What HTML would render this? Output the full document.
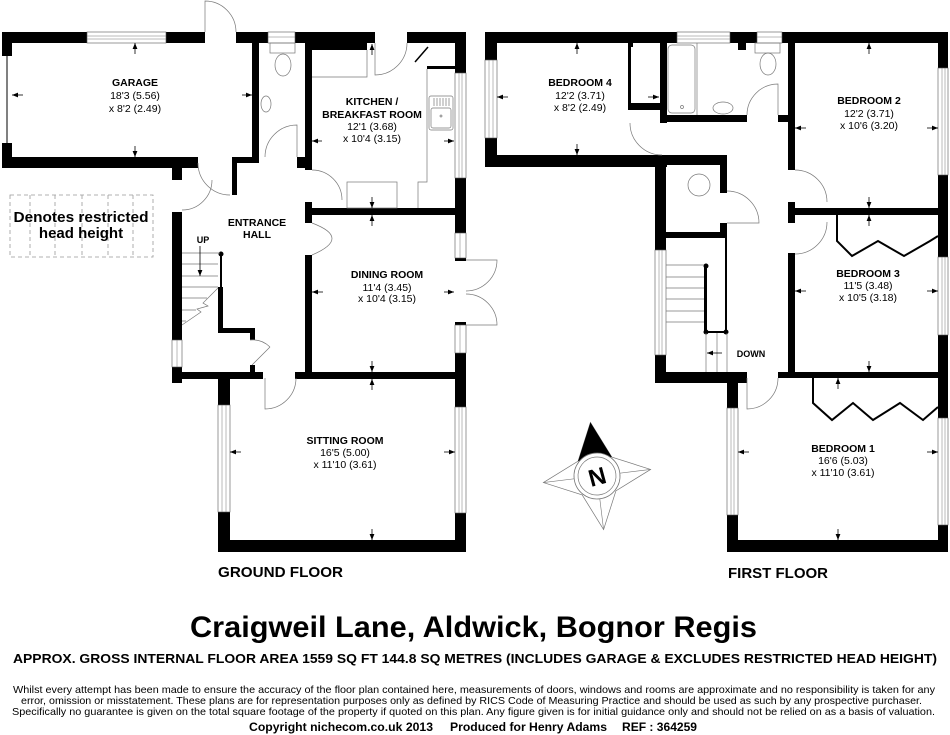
<!DOCTYPE html>
<html><head><meta charset="utf-8">
<style>
html,body{margin:0;padding:0;background:#fff;}
svg{display:block;}
text{font-family:"Liberation Sans",Arial,sans-serif;fill:#000;}
.b{font-weight:bold;}
.t{stroke:#777;stroke-width:.7;fill:none;}
.win{fill:#fff;stroke:#555;stroke-width:.6;}
.wl{stroke:#777;stroke-width:.5;}
.ar{stroke:#000;stroke-width:.8;}
</style></head>
<body>
<svg width="950" height="735" viewBox="0 0 950 735" xmlns="http://www.w3.org/2000/svg">
<defs>
<marker id="a" viewBox="0 0 10 10" refX="10" refY="5" markerWidth="6" markerHeight="6" orient="auto" markerUnits="userSpaceOnUse"><path d="M0,1 L10,5 L0,9 z" fill="#000"/></marker>
</defs>
<rect width="950" height="735" fill="#fff"/>

<!-- ================= GROUND FLOOR ================= -->
<g fill="#000">
<rect x="2" y="32" width="85" height="11"/>
<rect x="166" y="32" width="39" height="11"/>
<rect x="2" y="32" width="10" height="24"/>
<rect x="2" y="143" width="10" height="25"/>
<rect x="2" y="157" width="196" height="11"/>
<rect x="172" y="157" width="10" height="23"/>
<rect x="252" y="43" width="7" height="120"/>
<rect x="232" y="157" width="27" height="6"/>
<rect x="232" y="157" width="5" height="38"/>
<rect x="236" y="32" width="32" height="11"/>
<rect x="295" y="32" width="80" height="11"/>
<rect x="305" y="43" width="62" height="7"/>
<rect x="305" y="43" width="7" height="127"/>
<rect x="297" y="157" width="15" height="11"/>
<rect x="407" y="32" width="59" height="11"/>
<rect x="455" y="32" width="11" height="41"/>
<rect x="455" y="178" width="11" height="55"/>
<rect x="455" y="258" width="11" height="3"/>
<rect x="455" y="322" width="11" height="3"/>
<rect x="455" y="353" width="11" height="54"/>
<rect x="305" y="208" width="150" height="7"/>
<rect x="305" y="202" width="7" height="21"/>
<rect x="305" y="255" width="7" height="120"/>
<rect x="172" y="372" width="91" height="7"/>
<rect x="172" y="372" width="10" height="11"/>
<rect x="295" y="372" width="171" height="7"/>
<rect x="218" y="372" width="12" height="33"/>
<rect x="218" y="512" width="12" height="40"/>
<rect x="218" y="540" width="248" height="12"/>
<rect x="455" y="513" width="11" height="39"/>
<rect x="172" y="212" width="10" height="128"/>
<rect x="172" y="367" width="10" height="16"/>
<rect x="220" y="253" width="2" height="35"/>
<rect x="218" y="287" width="5" height="46"/>
<rect x="218" y="328" width="37" height="5"/>
<rect x="250" y="328" width="5" height="12"/>
<rect x="250" y="365" width="5" height="8"/>
<circle cx="221" cy="254" r="2.5"/>
<rect x="427" y="66" width="28" height="3"/>
</g>
<line x1="7" y1="56" x2="7" y2="143" stroke="#000" stroke-width="1"/>
<line x1="415" y1="62" x2="428" y2="47" stroke="#000" stroke-width="1.5"/>

<!-- ground windows -->
<g>
<rect class="win" x="87" y="32" width="79" height="11"/><line class="wl" x1="87" y1="36" x2="166" y2="36"/><line class="wl" x1="87" y1="39" x2="166" y2="39"/>
<rect class="win" x="268" y="32" width="27" height="11"/><line class="wl" x1="268" y1="37" x2="295" y2="37"/>
<rect class="win" x="455" y="73" width="11" height="105"/><line class="wl" x1="459" y1="73" x2="459" y2="178"/><line class="wl" x1="462" y1="73" x2="462" y2="178"/>
<rect class="win" x="455" y="233" width="11" height="25"/><line class="wl" x1="460" y1="233" x2="460" y2="258"/>
<rect class="win" x="455" y="325" width="11" height="28"/><line class="wl" x1="460" y1="325" x2="460" y2="353"/>
<rect class="win" x="172" y="340" width="10" height="27"/><line class="wl" x1="177" y1="340" x2="177" y2="367"/>
<rect class="win" x="218" y="405" width="12" height="107"/><line class="wl" x1="222" y1="405" x2="222" y2="512"/><line class="wl" x1="226" y1="405" x2="226" y2="512"/>
<rect class="win" x="455" y="407" width="11" height="106"/><line class="wl" x1="459" y1="407" x2="459" y2="513"/><line class="wl" x1="462" y1="407" x2="462" y2="513"/>
</g>

<!-- ground doors & fixtures -->
<g class="t">
<path d="M205,32 V1 A31,31 0 0 1 236,32"/>
<path d="M198,163 A32,32 0 0 0 230,195"/>
<path d="M212,180 A30,30 0 0 1 182,210"/>
<path d="M297,157 V125 A32,32 0 0 0 265,157"/>
<path d="M375,43 V75 A32,32 0 0 0 407,43"/>
<path d="M312,170 A30,30 0 0 1 342,200"/>
<path d="M312,223 Q352,238 312,255"/>
<path d="M466,260 H497 A31,31 0 0 1 466,291"/>
<path d="M466,325 H497 A31,31 0 0 0 466,294"/>
<path d="M265,378 V409 A31,31 0 0 0 296,378"/>
<path d="M252,365 L270,347"/>
<path d="M250,340 A25,25 0 0 1 270,347"/>
<!-- WC -->
<rect x="270" y="43" width="25" height="10"/>
<ellipse cx="283" cy="65" rx="8" ry="11"/>
<ellipse cx="266" cy="104" rx="5" ry="8"/>
<!-- kitchen -->
<polyline points="312,77 367,77 367,50"/>
<polyline points="427,69 427,182 418,182 418,208"/>
<rect x="347" y="182" width="50" height="26"/>
<rect x="429" y="96" width="24" height="34" rx="2"/>
<rect x="431" y="108" width="20" height="20" rx="2"/>
<path d="M434,98V106M437,98V106M440,98V106M443,98V106M446,98V106M449,98V106"/>
<circle cx="441" cy="116" r="1"/>
<!-- stairs -->
<path d="M182,253H220M182,264H218M182,276H218M182,287H218M182,298H207M182,310H196M182,321H186"/>
<polyline points="218,288 203,303 208,306 197,309 201,312 182,325"/>
</g>
<line x1="200" y1="246" x2="200" y2="276" class="ar" marker-end="url(#a)"/>

<!-- ================= FIRST FLOOR ================= -->
<g fill="#000">
<rect x="485" y="32" width="192" height="11"/>
<rect x="730" y="32" width="27" height="11"/>
<rect x="738" y="43" width="8" height="7"/>
<rect x="782" y="32" width="166" height="11"/>
<rect x="938" y="32" width="10" height="36"/>
<rect x="938" y="175" width="10" height="82"/>
<rect x="938" y="335" width="10" height="83"/>
<rect x="938" y="525" width="10" height="27"/>
<rect x="485" y="32" width="12" height="28"/>
<rect x="485" y="138" width="12" height="29"/>
<rect x="485" y="155" width="182" height="12"/>
<rect x="655" y="155" width="72" height="10"/>
<rect x="655" y="155" width="11" height="95"/>
<rect x="655" y="355" width="11" height="28"/>
<rect x="720" y="155" width="7" height="38"/>
<rect x="720" y="223" width="7" height="15"/>
<rect x="666" y="232" width="59" height="6"/>
<rect x="660" y="43" width="7" height="80"/>
<rect x="628" y="43" width="3" height="60"/>
<rect x="628" y="43" width="5" height="4"/>
<rect x="628" y="103" width="32" height="7"/>
<rect x="660" y="115" width="87" height="7"/>
<rect x="778" y="115" width="17" height="7"/>
<rect x="788" y="43" width="7" height="127"/>
<rect x="788" y="202" width="7" height="21"/>
<rect x="795" y="208" width="143" height="7"/>
<rect x="788" y="253" width="7" height="120"/>
<rect x="655" y="372" width="92" height="11"/>
<rect x="727" y="372" width="11" height="36"/>
<rect x="727" y="515" width="11" height="37"/>
<rect x="778" y="372" width="170" height="6"/>
<rect x="727" y="540" width="221" height="12"/>
<rect x="704" y="265" width="3" height="68"/>
<rect x="704" y="331" width="23" height="2"/>
<rect x="725" y="223" width="2" height="110"/>
<circle cx="706" cy="266" r="2.5"/>
<circle cx="706" cy="332" r="2.5"/>
<circle cx="726" cy="332" r="2.5"/>
</g>

<!-- first windows -->
<g>
<rect class="win" x="677" y="32" width="53" height="11"/><line class="wl" x1="677" y1="36" x2="730" y2="36"/><line class="wl" x1="677" y1="39" x2="730" y2="39"/>
<rect class="win" x="757" y="32" width="25" height="11"/><line class="wl" x1="757" y1="37" x2="782" y2="37"/>
<rect class="win" x="485" y="60" width="12" height="78"/><line class="wl" x1="489" y1="60" x2="489" y2="138"/><line class="wl" x1="493" y1="60" x2="493" y2="138"/>
<rect class="win" x="938" y="68" width="10" height="107"/><line class="wl" x1="942" y1="68" x2="942" y2="175"/><line class="wl" x1="945" y1="68" x2="945" y2="175"/>
<rect class="win" x="938" y="257" width="10" height="78"/><line class="wl" x1="942" y1="257" x2="942" y2="335"/><line class="wl" x1="945" y1="257" x2="945" y2="335"/>
<rect class="win" x="938" y="418" width="10" height="107"/><line class="wl" x1="942" y1="418" x2="942" y2="525"/><line class="wl" x1="945" y1="418" x2="945" y2="525"/>
<rect class="win" x="655" y="250" width="11" height="105"/><line class="wl" x1="659" y1="250" x2="659" y2="355"/><line class="wl" x1="662" y1="250" x2="662" y2="355"/>
<rect class="win" x="727" y="408" width="11" height="107"/><line class="wl" x1="731" y1="408" x2="731" y2="515"/><line class="wl" x1="734" y1="408" x2="734" y2="515"/>
</g>

<g class="t">
<path d="M630,123 A32,32 0 0 0 662,155"/>
<path d="M778,115 V84 A31,31 0 0 0 747,115"/>
<path d="M795,170 A32,32 0 0 1 827,202"/>
<path d="M827,222 A32,32 0 0 1 795,254"/>
<path d="M727,223 H759 A32,32 0 0 0 727,191"/>
<path d="M747,378 V409 A31,31 0 0 0 778,378"/>
<rect x="668" y="45" width="27" height="68" rx="4"/>
<line x1="697" y1="43" x2="697" y2="115"/>
<circle cx="682" cy="107" r="1.5"/>
<ellipse cx="723" cy="108" rx="10" ry="6"/>
<rect x="755" y="43" width="25" height="10"/>
<ellipse cx="768" cy="64" rx="8" ry="11"/>
<circle cx="699" cy="185" r="11"/>
<path d="M666,265H704M666,277H704M666,288H704M666,299H704M666,311H704M666,322H704"/>
<path d="M706,333V372M717,333V372M727,333V372"/>
</g>
<line x1="722" y1="353" x2="707" y2="353" class="ar" marker-end="url(#a)"/>
<!-- wardrobes -->
<g stroke="#000" stroke-width="2" fill="none">
<polyline points="837,215 837,241 852,256 878,241 904,256 930,241 938,236"/>
<polyline points="813,378 813,403 832,420 853,403 873,420 900,403 923,420 938,407"/>
</g>

<!-- dimension arrows -->
<g class="ar">
<line x1="135" y1="54" x2="135" y2="43" marker-end="url(#a)"/>
<line x1="135" y1="146" x2="135" y2="157" marker-end="url(#a)"/>
<line x1="23" y1="95" x2="12" y2="95" marker-end="url(#a)"/>
<line x1="242" y1="95" x2="252" y2="95" marker-end="url(#a)"/>
<line x1="372" y1="55" x2="372" y2="44" marker-end="url(#a)"/>
<line x1="322" y1="141" x2="312" y2="141" marker-end="url(#a)"/>
<line x1="444" y1="141" x2="454" y2="141" marker-end="url(#a)"/>
<line x1="372" y1="197" x2="372" y2="208" marker-end="url(#a)"/>
<line x1="372" y1="226" x2="372" y2="215" marker-end="url(#a)"/>
<line x1="323" y1="292" x2="312" y2="292" marker-end="url(#a)"/>
<line x1="444" y1="292" x2="454" y2="292" marker-end="url(#a)"/>
<line x1="372" y1="361" x2="372" y2="372" marker-end="url(#a)"/>
<line x1="372" y1="390" x2="372" y2="379" marker-end="url(#a)"/>
<line x1="241" y1="452" x2="230" y2="452" marker-end="url(#a)"/>
<line x1="444" y1="452" x2="455" y2="452" marker-end="url(#a)"/>
<line x1="372" y1="529" x2="372" y2="540" marker-end="url(#a)"/>
<line x1="577" y1="54" x2="577" y2="43" marker-end="url(#a)"/>
<line x1="577" y1="144" x2="577" y2="155" marker-end="url(#a)"/>
<line x1="508" y1="97" x2="497" y2="97" marker-end="url(#a)"/>
<line x1="648" y1="97" x2="659" y2="97" marker-end="url(#a)"/>
<line x1="869" y1="54" x2="869" y2="43" marker-end="url(#a)"/>
<line x1="806" y1="128" x2="795" y2="128" marker-end="url(#a)"/>
<line x1="927" y1="128" x2="938" y2="128" marker-end="url(#a)"/>
<line x1="869" y1="197" x2="869" y2="208" marker-end="url(#a)"/>
<line x1="869" y1="226" x2="869" y2="215" marker-end="url(#a)"/>
<line x1="806" y1="291" x2="795" y2="291" marker-end="url(#a)"/>
<line x1="927" y1="291" x2="938" y2="291" marker-end="url(#a)"/>
<line x1="869" y1="361" x2="869" y2="372" marker-end="url(#a)"/>
<line x1="838" y1="389" x2="838" y2="378" marker-end="url(#a)"/>
<line x1="749" y1="452" x2="738" y2="452" marker-end="url(#a)"/>
<line x1="927" y1="452" x2="938" y2="452" marker-end="url(#a)"/>
<line x1="838" y1="529" x2="838" y2="540" marker-end="url(#a)"/>
</g>

<!-- restricted head height key -->
<g stroke="#999" stroke-width=".8" stroke-dasharray="4,3" fill="none">
<rect x="10" y="195" width="143" height="62"/>
<path d="M30,195V257M55,195V257M82,195V257M108,195V257M133,195V257"/>
</g>
<text x="81" y="222" class="b" font-size="15" text-anchor="middle" textLength="135" lengthAdjust="spacingAndGlyphs">Denotes restricted</text>
<text x="81" y="238" class="b" font-size="15" text-anchor="middle">head height</text>

<!-- room labels -->
<g font-size="10.5" text-anchor="middle">
<text x="135" y="86" class="b">GARAGE</text>
<text x="135" y="99">18'3 (5.56)</text>
<text x="135" y="112">x 8'2 (2.49)</text>
<text x="372" y="105" class="b">KITCHEN /</text>
<text x="372" y="118" class="b">BREAKFAST ROOM</text>
<text x="372" y="130">12'1 (3.68)</text>
<text x="372" y="142">x 10'4 (3.15)</text>
<text x="257" y="226" class="b">ENTRANCE</text>
<text x="257" y="238" class="b">HALL</text>
<text x="203" y="243" class="b" font-size="9">UP</text>
<text x="387" y="278" class="b">DINING ROOM</text>
<text x="387" y="291">11'4 (3.45)</text>
<text x="387" y="302">x 10'4 (3.15)</text>
<text x="345" y="444" class="b">SITTING ROOM</text>
<text x="345" y="456">16'5 (5.00)</text>
<text x="345" y="468">x 11'10 (3.61)</text>
<text x="580" y="86" class="b">BEDROOM 4</text>
<text x="580" y="99">12'2 (3.71)</text>
<text x="580" y="111">x 8'2 (2.49)</text>
<text x="869" y="104" class="b">BEDROOM 2</text>
<text x="869" y="117">12'2 (3.71)</text>
<text x="869" y="129">x 10'6 (3.20)</text>
<text x="868" y="277" class="b">BEDROOM 3</text>
<text x="868" y="289">11'5 (3.48)</text>
<text x="868" y="301">x 10'5 (3.18)</text>
<text x="843" y="452" class="b">BEDROOM 1</text>
<text x="843" y="464">16'6 (5.03)</text>
<text x="843" y="476">x 11'10 (3.61)</text>
<text x="751" y="357" class="b" font-size="9">DOWN</text>
</g>

<text x="280.5" y="577" class="b" font-size="15" text-anchor="middle" textLength="125" lengthAdjust="spacingAndGlyphs">GROUND FLOOR</text>
<text x="778" y="578" class="b" font-size="15" text-anchor="middle" textLength="100" lengthAdjust="spacingAndGlyphs">FIRST FLOOR</text>

<!-- compass -->
<g transform="translate(597,476) rotate(-7)">
<polygon points="0,-54 17,-17 54,0 17,17 0,54 -17,17 -54,0 -17,-17" fill="#fff" stroke="#777" stroke-width=".7"/>
<path d="M0,-54V0M0,54V0M-54,0H0M54,0H0" stroke="#777" stroke-width=".6"/>
<polygon points="0,-54 17,-17 -17,-17" fill="#000"/>
<circle r="23" fill="#fff" stroke="#777" stroke-width=".8"/>
<circle r="19" fill="none" stroke="#777" stroke-width=".7"/>
<text x="0" y="9" class="b" font-size="24" text-anchor="middle" transform="rotate(-8)">N</text>
</g>

<!-- footer text -->
<text x="473.5" y="637" class="b" font-size="30" text-anchor="middle" textLength="567" lengthAdjust="spacingAndGlyphs">Craigweil Lane, Aldwick, Bognor Regis</text>
<text x="475" y="663" class="b" font-size="12.5" text-anchor="middle" textLength="924" lengthAdjust="spacingAndGlyphs">APPROX. GROSS INTERNAL FLOOR AREA 1559 SQ FT 144.8 SQ METRES (INCLUDES GARAGE &amp; EXCLUDES RESTRICTED HEAD HEIGHT)</text>
<text x="474" y="693" font-size="10.3" text-anchor="middle" textLength="922" lengthAdjust="spacingAndGlyphs">Whilst every attempt has been made to ensure the accuracy of the floor plan contained here, measurements of doors, windows and rooms are approximate and no responsibility is taken for any</text>
<text x="471.5" y="704" font-size="10.3" text-anchor="middle" textLength="901" lengthAdjust="spacingAndGlyphs">error, omission or misstatement. These plans are for representation purposes only as defined by RICS Code of Measuring Practice and should be used as such by any prospective purchaser.</text>
<text x="473.5" y="715" font-size="10.3" text-anchor="middle" textLength="923" lengthAdjust="spacingAndGlyphs">Specifically no guarantee is given on the total square footage of the property if quoted on this plan. Any figure given is for initial guidance only and should not be relied on as a basis of valuation.</text>
<text x="249" y="731" class="b" font-size="11.5" textLength="184" lengthAdjust="spacingAndGlyphs">Copyright nichecom.co.uk 2013</text>
<text x="450" y="731" class="b" font-size="11.5" textLength="157" lengthAdjust="spacingAndGlyphs">Produced for Henry Adams</text>
<text x="622" y="731" class="b" font-size="11.5" textLength="75" lengthAdjust="spacingAndGlyphs">REF : 364259</text>
</svg>
</body></html>
